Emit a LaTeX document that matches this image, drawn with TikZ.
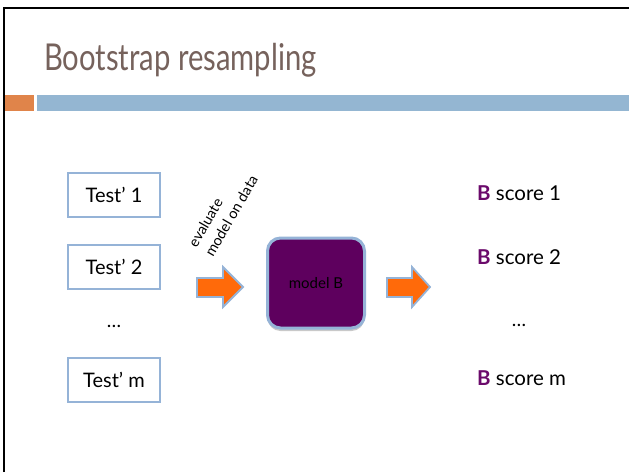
\documentclass[tikz,border=0pt]{standalone}
\usepackage{fontspec}
\setmainfont{Lato}
\usetikzlibrary{shadows}
\definecolor{titlebrown}{HTML}{76625C}
\definecolor{barorange}{HTML}{E0844A}
\definecolor{barblue}{HTML}{94B6D2}
\definecolor{boxblue}{HTML}{95B3D7}
\definecolor{modelpurple}{HTML}{5E005E}
\definecolor{bpurple}{HTML}{6B0A6B}
\definecolor{arroworange}{HTML}{FF6A0A}
\tikzset{
  testbox/.style={draw=boxblue, line width=2pt, fill=white, minimum width=92pt, minimum height=44pt, inner sep=0pt, font=\fontsize{20}{22}\selectfont},
  dotslabel/.style={font=\fontsize{19}{22}\selectfont, inner sep=0pt},
  scorelabel/.style={anchor=west, font=\fontsize{20.5}{22}\selectfont, inner sep=0pt},
  modelbox/.style={draw=boxblue, line width=3pt, fill=modelpurple, rounded corners=13pt, minimum width=97pt, minimum height=90pt, inner sep=0pt, font=\fontsize{15}{17}\selectfont, drop shadow={shadow xshift=0pt, shadow yshift=-3pt, opacity=0.35, fill=black!60}},
  blockarrow/.style={fill=arroworange, draw=boxblue, line width=1.8pt, line join=miter},
  framestyle/.style={line width=2pt, black},
}
\begin{document}
\begin{tikzpicture}[x=1pt,y=-1pt]
\useasboundingbox (0,0) rectangle (629,472);
\fill[white] (0,0) rectangle (629,472);
% frame
\draw[framestyle] (4,472) -- (4,8) -- (629,8);
% title
\node[anchor=base west, inner sep=0pt, text=titlebrown, font=\fontsize{37}{42}\selectfont] (title) at (44,70) {\scalebox{0.79}[1]{Bootstrap resampling}};
% bars
\fill[barorange] (5,95) rectangle (34,111);
\fill[barblue] (37,95) rectangle (629,111);
% test boxes
\node[testbox] (t1) at (114,195) {Test’ 1};
\node[testbox] (t2) at (114,266.5) {Test’ 2};
\node[dotslabel] (tdots) at (114,326) {…};
\node[testbox] (tm) at (114,379.5) {Test’ m};
% rotated label
\node[rotate=60, anchor=base west, align=left, inner sep=0pt, font=\fontsize{14.5}{19}\selectfont] (evallabel) at (213,258) {evaluate\\model on data};
% arrows
\path[blockarrow] (197,278) -- (223,278) -- (223,267) -- (243,287) -- (223,307) -- (223,297) -- (197,297) -- cycle;
% model box
\node[modelbox] (model) at (316,283) {model B};
\path[blockarrow] (387,278) -- (412,278) -- (412,267) -- (430,287) -- (412,307) -- (412,297) -- (387,297) -- cycle;
% scores
\node[scorelabel] (s1) at (477,193) {\textcolor{bpurple}{\textbf{B}} score 1};
\node[scorelabel] (s2) at (477,257) {\textcolor{bpurple}{\textbf{B}} score 2};
\node[dotslabel] (sdots) at (519,325) {…};
\node[scorelabel] (sm) at (477,378) {\textcolor{bpurple}{\textbf{B}} score m};
\end{tikzpicture}
\end{document}
